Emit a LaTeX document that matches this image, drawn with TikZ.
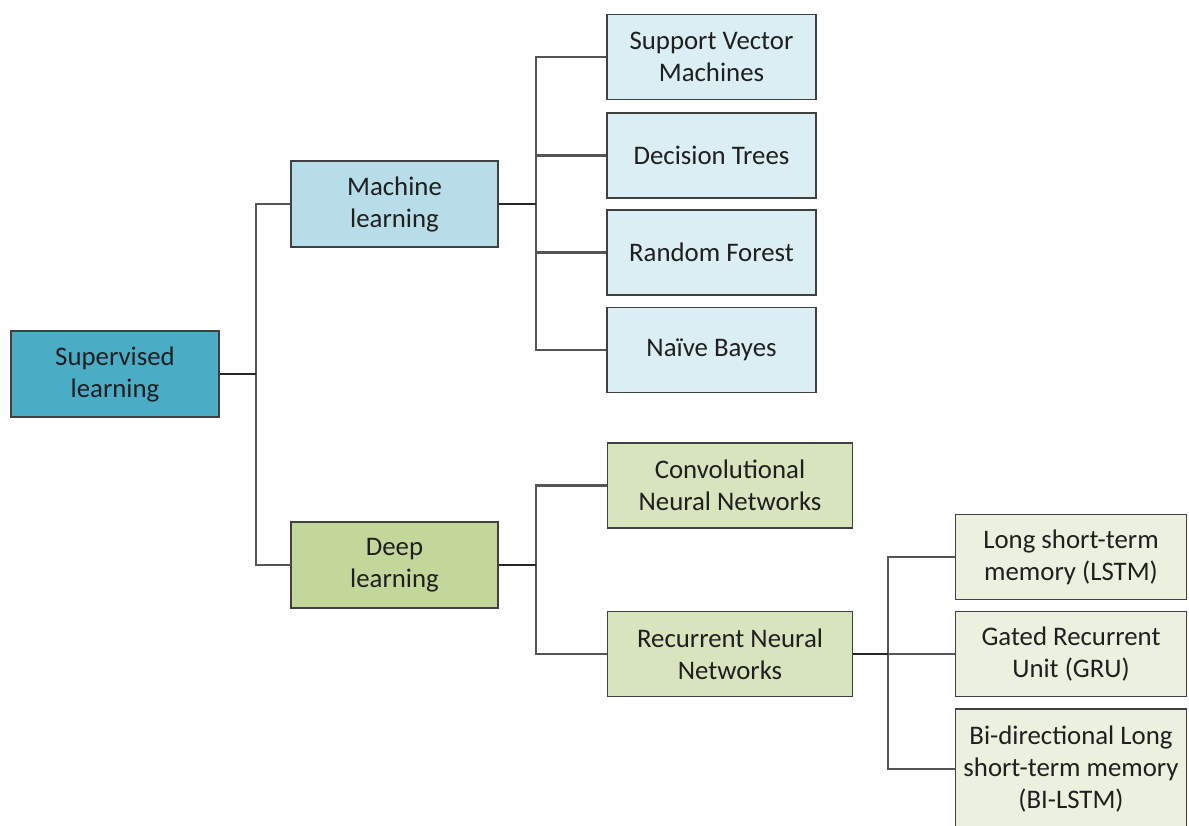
\documentclass[tikz,border=0pt]{standalone}
\usepackage{fontspec}
\setmainfont{Carlito}
\definecolor{rootfill}{HTML}{4BACC6}
\definecolor{mlfill}{HTML}{B7DEE8}
\definecolor{mlleaf}{HTML}{DBEEF4}
\definecolor{dlfill}{HTML}{C4D79B}
\definecolor{dlmid}{HTML}{D7E4BD}
\definecolor{dlleaf}{HTML}{EBF1DE}
\definecolor{edge}{HTML}{404040}
\definecolor{wire}{HTML}{555555}
\begin{document}
\begin{tikzpicture}[x=0.5pt,y=-0.5pt,
  box/.style={draw=edge,line width=0.9pt,align=center,inner sep=0pt,
    text=black!88,font=\fontsize{13.4}{16}\selectfont},
  root/.style={box,fill=rootfill,minimum width=104pt,minimum height=43pt},
  mid/.style={box,minimum width=103.5pt,minimum height=43pt},
  leaf/.style={box,fill=mlleaf,minimum width=104.5pt,minimum height=42.5pt},
  dleaf/.style={box,fill=dlmid,minimum width=122.5pt,minimum height=42.5pt},
  rleaf/.style={box,fill=dlleaf,minimum width=115.5pt,minimum height=42.5pt},
  stub/.style={draw=black!85,line width=1.2pt},
  wire/.style={draw=wire,line width=1.1pt}]
\useasboundingbox (0,0) rectangle (1189,825);
\clip (0,0) rectangle (1189,825);

% boxes
\node[root] (sup) at (115,374) {Supervised\\learning};
\node[mid,fill=mlfill] (ml) at (394.5,204) {Machine\\learning};
\node[mid,fill=dlfill] (dl) at (394.5,565) {Deep\\learning};

\node[leaf] (svm) at (711.5,57) {Support Vector\\Machines};
\node[leaf] (dt) at (711.5,155.5) {Decision Trees};
\node[leaf] (rf) at (711.5,252.5) {Random Forest};
\node[leaf] (nb) at (711.5,350) {Naïve Bayes};

\node[dleaf] (cnn) at (730,485.5) {Convolutional\\Neural Networks};
\node[dleaf] (rnn) at (730,654) {Recurrent Neural\\Networks};

\node[rleaf] (lstm) at (1071,557) {Long short-term\\memory (LSTM)};
\node[rleaf] (gru) at (1071,654) {Gated Recurrent\\Unit (GRU)};
\node[rleaf,minimum height=60pt] (bil) at (1071,769) {Bi-directional Long\\short-term memory\\(BI-LSTM)};

% branch points
\coordinate (j0) at (256,374);
\coordinate (j1) at (536,204);
\coordinate (j2) at (536,565);
\coordinate (j3) at (888,654);

% connectors
\draw[wire] (ml.west) -| (j0);
\draw[wire] (dl.west) -| (j0);
\draw[stub] (sup.east) -- (j0);

\draw[wire] (svm.west) -| (j1);
\draw[wire] (dt.west) -| (j1);
\draw[wire] (rf.west) -| (j1);
\draw[wire] (nb.west) -| (j1);
\draw[stub] (ml.east) -- (j1);

\draw[wire] (cnn.west) -| (j2);
\draw[wire] (rnn.west) -| (j2);
\draw[stub] (dl.east) -- (j2);

\draw[wire] (lstm.west) -| (j3);
\draw[wire] (gru.west) -| (j3);
\draw[wire] (bil.west) -| (j3);
\draw[stub] (rnn.east) -- (j3);
\end{tikzpicture}
\end{document}
